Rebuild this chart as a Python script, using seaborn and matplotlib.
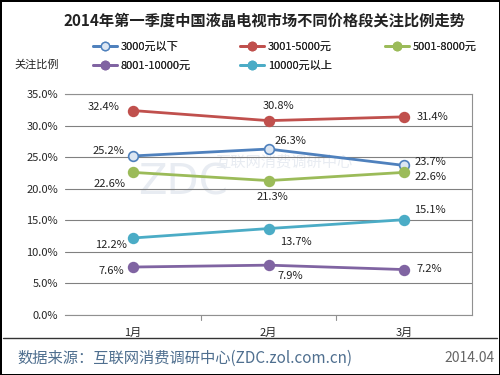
import matplotlib
matplotlib.use('Agg')
import matplotlib.pyplot as plt
import seaborn as sb
import pandas as pd
from matplotlib.lines import Line2D

# Data
months = ['1月', '2月', '3月']
series_names = ['3000元以下', '3001-5000元', '5001-8000元', '8001-10000元', '10000元以上']
s_3000 = [25.2, 26.3, 23.7]
s_5000 = [32.4, 30.8, 31.4]
s_8000 = [22.6, 21.3, 22.6]
s_10000 = [7.6, 7.9, 7.2]
s_above = [12.2, 13.7, 15.1]
y_ticks = [0, 5, 10, 15, 20, 25, 30, 35]

values = [s_3000, s_5000, s_8000, s_10000, s_above]
df = pd.DataFrame({
    'month': months * 5,
    'series': [n for n in series_names for _ in months],
    'value': [v for vals in values for v in vals],
})

# Styles
line_colors = ['#4F81BD', '#C0504D', '#9BBB59', '#8064A2', '#4BACC6']
face_colors = ['#DCE6F2', '#C0504D', '#9BBB59', '#8064A2', '#4BACC6']
# label offsets in pixels (dx, dy, ha) per series per month
label_offsets = [
    [(-8, 5, 'right'), (6, 8, 'left'), (10, 3, 'left')],
    [(-13, 4, 'right'), (10, 15, 'center'), (12, 0, 'left')],
    [(-7, -12, 'right'), (4, -16, 'center'), (10, -5, 'left')],
    [(-9, -4, 'right'), (9, -11, 'left'), (12, 1, 'left')],
    [(-6, -7, 'right'), (12, -13, 'left'), (10, 10, 'left')],
]

sb.set_style('white')
plt.rcParams['font.family'] = ['Noto Sans CJK SC', 'DejaVu Sans']

fig = plt.figure(figsize=(5, 3.75), dpi=100)
fig.patch.set_edgecolor('black')
fig.patch.set_linewidth(2)
ax = fig.add_axes([0.13, 0.16, 0.814, 0.589])

# Watermark
ax.text(0.18, 0.6, 'ZDC', transform=ax.transAxes, fontsize=30, color='#E8ECF2',
        family='DejaVu Sans', va='center', zorder=0)
ax.text(0.37, 0.69, '互联网消费调研中心', transform=ax.transAxes, fontsize=11,
        color='#E8ECF2', va='center', zorder=0)

for i, name in enumerate(series_names):
    sub = df[df['series'] == name]
    sb.lineplot(ax=ax, data=sub, x='month', y='value', color=line_colors[i],
                linewidth=2, marker='o', markersize=7, markerfacecolor=face_colors[i],
                markeredgecolor=line_colors[i], markeredgewidth=1.2, legend=False, zorder=3)
    for j, v in enumerate(sub['value']):
        dx, dy, ha = label_offsets[i][j]
        ax.annotate(f'{v:.1f}%', (j, v), xytext=(dx, dy), textcoords='offset pixels',
                    ha=ha, va='center', fontsize=8, color='#222222', zorder=4)

ax.set_xlim(-0.5, 2.5)
ax.set_ylim(0, 35)
ax.set_yticks(y_ticks)
ax.set_yticklabels([f'{t:.1f}%' for t in y_ticks], fontsize=8)
ax.set_xticks([0, 1, 2])
ax.set_xticklabels(months, fontsize=8)
ax.set_xlabel('')
ax.set_ylabel('')
ax.yaxis.grid(True, color='#808080', linewidth=0.8)
ax.set_axisbelow(True)
for sp in ax.spines.values():
    sp.set_color('#909090')
    sp.set_linewidth(0.8)
ax.spines['left'].set_visible(False)
ax.tick_params(axis='y', length=0, pad=5)
ax.tick_params(axis='x', length=0, pad=9)
for xb in [0.5, 1.5]:
    ax.plot([xb, xb], [0, -0.8], color='#909090', linewidth=0.8, clip_on=False)

# Title
fig.text(0.528, 0.945, '2014年第一季度中国液晶电视市场不同价格段关注比例走势',
         ha='center', va='center', fontsize=11, fontweight='bold', color='#222222')
fig.text(0.028, 0.828, '关注比例', ha='left', va='center', fontsize=8, color='#222222')

# Legend: three columns, filled row by row
handles = [Line2D([0], [0], color=line_colors[i], linewidth=2, marker='o', markersize=6,
                  markerfacecolor=face_colors[i], markeredgecolor=line_colors[i])
           for i in range(5)]
columns = [[0, 3], [1, 4], [2]]
col_x = [0.186, 0.48, 0.77]
for cx, idx in zip(col_x, columns):
    leg = fig.legend([handles[k] for k in idx], [series_names[k] for k in idx],
                     loc='upper left', bbox_to_anchor=(cx, 0.889), frameon=False,
                     fontsize=8, handlelength=2.2, handletextpad=0.3,
                     labelspacing=0.8, borderpad=0, borderaxespad=0)
    fig.add_artist(leg)

# Footer
fig.add_artist(Line2D([0.006, 0.994], [0.099, 0.099], color='#333333', linewidth=1))
fig.text(0.035, 0.045, '数据来源：互联网消费调研中心(ZDC.zol.com.cn)', ha='left', va='center',
         fontsize=11, color='#4F6F8F')
fig.text(0.99, 0.045, '2014.04', ha='right', va='center', fontsize=10, color='#666666')

fig.savefig('out.png', dpi=100)
